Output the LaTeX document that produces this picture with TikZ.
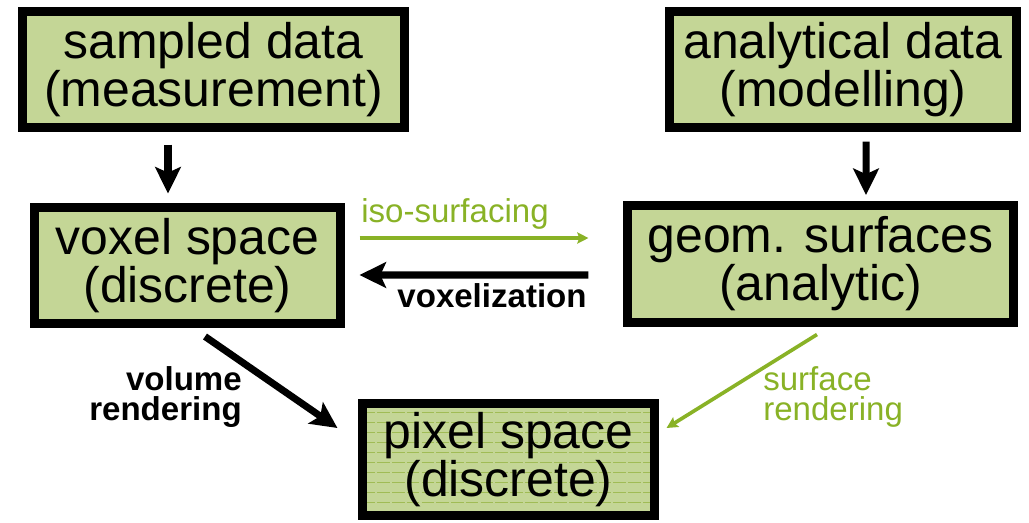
\documentclass[tikz,border=0pt]{standalone}
\usepackage{fontspec}
\setmainfont{Liberation Sans}
\usetikzlibrary{arrows.meta}
\definecolor{boxgreen}{RGB}{196,214,150}
\definecolor{linegreen}{RGB}{160,188,85}
\definecolor{labelgreen}{RGB}{137,178,38}
\begin{document}
\begin{tikzpicture}[x=0.025cm, y=-0.025cm,
    databox/.style={draw=black, line width=6.4pt, fill=boxgreen, inner sep=0pt,
        minimum height=2.9cm, align=center, font=\fontsize{35.5}{32}\selectfont},
    pixelbox/.style={databox, path picture={
        \foreach \k in {1,...,11}
            \draw[linegreen, line width=0.8pt, dash pattern=on 9pt off 1.5pt]
                ([yshift=-\k*7.11pt+0.4pt]path picture bounding box.north west) --
                ([yshift=-\k*7.11pt+0.4pt]path picture bounding box.north east);}},
    flowarrow/.style={line width=5pt, -{Stealth[length=0.66cm, width=0.64cm, inset=0.14cm]}},
    greenarrow/.style={labelgreen, line width=2.6pt, -{Stealth[length=0.28cm, width=0.28cm, inset=0.05cm]}},
    boldlabel/.style={inner sep=0pt, font=\fontsize{23.5}{21}\selectfont\bfseries},
    greenlabel/.style={inner sep=0pt, labelgreen, font=\fontsize{23.5}{21}\selectfont}]
    \useasboundingbox (0,0) rectangle (1029,522);
    \node[databox, minimum width=9.55cm] (sampled) at (213.5,69.5) {sampled data\\(measurement)};
    \node[databox, minimum width=8.65cm] (analytical) at (843,69.5) {analytical data\\(modelling)};
    \node[databox, minimum width=7.65cm] (voxel) at (187.5,265.5) {voxel space\\(discrete)};
    \node[databox, minimum width=9.65cm] (geom) at (820.5,264) {geom. surfaces\\(analytic)};
    \node[pixelbox, minimum width=7.3cm, minimum height=2.8cm] (pixel) at (508.5,459.5) {pixel space\\(discrete)};
    \draw[flowarrow] ([shift={(-45.5,12.5)}]sampled.south) -- ([shift={(-19.5,-9.5)}]voxel.north);
    \draw[flowarrow] ([shift={(23,9.5)}]analytical.south) -- ([shift={(45.5,-6.5)}]geom.north);
    \draw[greenarrow, line width=2.2pt] ([shift={(14.5,-27.5)}]voxel.east) -- ([shift={(-34.5,-26)}]geom.west);
    \draw[flowarrow] ([shift={(-34.5,11)}]geom.west) -- ([shift={(14.5,9.5)}]voxel.east);
    \draw[flowarrow] ([shift={(17.5,8.5)}]voxel.south) -- ([shift={(-20.5,-31.5)}]pixel.west);
    \draw[greenarrow] ([shift={(-3.5,8)}]geom.south) -- ([shift={(7.5,-31.5)}]pixel.east);
    \node[greenlabel, anchor=base] (isolabel) at (455,222) {iso-surfacing};
    \node[boldlabel, anchor=base] (voxlabel) at (492,307) {voxelization};
    \node[boldlabel, align=right, anchor=base east] (vollabel) at (242,420) {volume\\rendering};
    \node[greenlabel, align=left, anchor=base west] (surflabel) at (763,420) {surface\\rendering};
\end{tikzpicture}
\end{document}
